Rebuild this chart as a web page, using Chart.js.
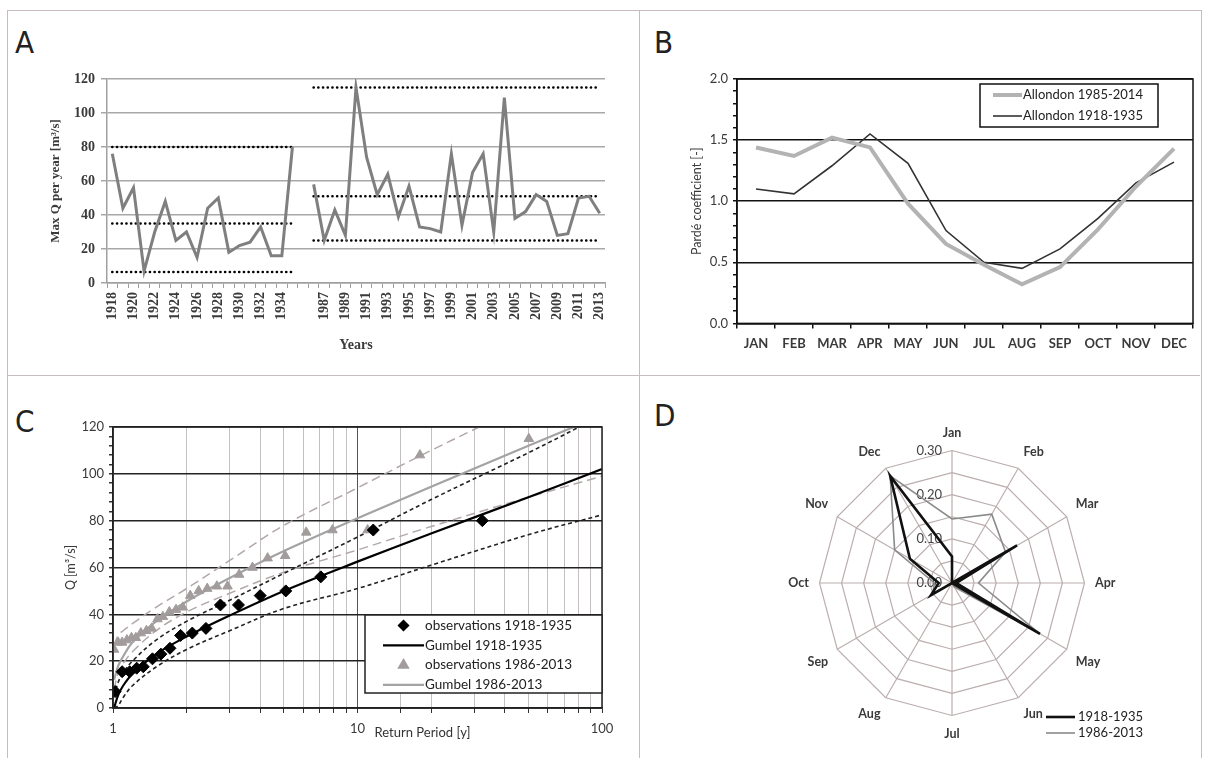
<!DOCTYPE html>
<html lang="en">
<head>
<meta charset="UTF-8">
<title>Allondon floods</title>
<script src="https://cdn.jsdelivr.net/npm/chart.js"></script>
<style>
  body { margin: 0; background: #fff; width: 1208px; height: 758px; overflow: hidden; position: relative; }
  .frame { position: absolute; border: 1px solid #c9bcbc; }
  .line { position: absolute; background: #c9bcbc; }
  .letter { position: absolute; font-family: 'DejaVu Sans Condensed', 'Liberation Sans Narrow', sans-serif; font-size: 31px; line-height: 1; color: #222; font-weight: 300; }
  canvas { position: absolute; }
</style>
</head>
<body>
<div class="frame" style="left:7px; top:10px; width:1193px; height:760px;"></div>
<div class="line" style="left:639px; top:10px; width:1px; height:748px;"></div>
<div class="line" style="left:7px; top:375px; width:1193px; height:1px;"></div>
<div class="letter" style="left:15px; top:27px;">A</div>
<div class="letter" style="left:654px; top:27px;">B</div>
<div class="letter" style="left:15px; top:406px;">C</div>
<div class="letter" style="left:654px; top:400px;">D</div>

<canvas id="chartA" width="625" height="298" style="left:0px; top:60px;"></canvas>
<canvas id="chartB" width="568" height="300" style="left:640px; top:60px;"></canvas>
<canvas id="chartC" width="625" height="358" style="left:0px; top:400px;"></canvas>
<canvas id="chartD" width="420" height="316" style="left:742px; top:425px;"></canvas>

<script>
// ---------- data ----------
// A: annual maximum discharge
const yearsEarly = [1918, 1919, 1920, 1921, 1922, 1923, 1924, 1925, 1926, 1927, 1928, 1929, 1930, 1931, 1932, 1933, 1934, 1935];
const qEarly = [76, 44, 56, 7, 30, 48, 25, 30, 15, 44, 50, 18, 22, 24, 33, 16, 16, 80];
const yearsLate = [1986, 1987, 1988, 1989, 1990, 1991, 1992, 1993, 1994, 1995, 1996, 1997, 1998, 1999, 2000, 2001, 2002, 2003, 2004, 2005, 2006, 2007, 2008, 2009, 2010, 2011, 2012, 2013];
const qLate = [58, 25, 43, 28, 115, 74, 52, 64, 39, 57, 33, 32, 30, 76, 34, 65, 76, 30, 109, 38, 42, 52, 48, 28, 29, 50, 51, 41];
const levelsEarly = [80, 35, 6.5];
const levelsLate = [115, 51, 25];

// B: Pardé coefficients
const monthsUpper = ['JAN', 'FEB', 'MAR', 'APR', 'MAY', 'JUN', 'JUL', 'AUG', 'SEP', 'OCT', 'NOV', 'DEC'];
const parde1985 = [1.44, 1.37, 1.52, 1.44, 0.98, 0.65, 0.48, 0.32, 0.46, 0.77, 1.12, 1.43];
const parde1918 = [1.10, 1.06, 1.29, 1.55, 1.31, 0.76, 0.50, 0.45, 0.61, 0.86, 1.15, 1.32];

// C: return periods
const rpEarly = [32.4, 11.6, 7.08, 5.09, 4.0, 3.26, 2.75, 2.40, 2.11, 1.89, 1.71, 1.57, 1.45, 1.33, 1.25, 1.17, 1.09, 1.02];
const obsEarly = [80, 76, 56, 50, 48, 44, 44, 34, 32, 31, 25.5, 23, 21, 17.6, 17, 15.5, 15.5, 7];
const rpLate = [50.2, 18.0, 11.0, 7.9, 6.17, 5.06, 4.29, 3.72, 3.28, 2.94, 2.66, 2.43, 2.24, 2.07, 1.93, 1.81, 1.70, 1.60, 1.52, 1.44, 1.37, 1.30, 1.24, 1.19, 1.14, 1.09, 1.05, 1.01];
const obsLate = [115, 108, 76, 76, 75, 65, 64, 60, 57, 52, 52, 51, 50, 48, 43, 42, 41, 39, 38, 34, 33, 32, 30, 30, 29, 28, 28, 25];
const rpCurve = [1.01, 1.05, 1.1, 1.2, 1.5, 2, 3, 5, 10, 20, 50, 100];
const gumbelEarly = [0, 5.5, 9.5, 14.5, 23, 30.5, 39.5, 50, 62.5, 74.5, 90, 102];
const upperEarly = [5, 11, 15, 20, 29, 37, 46, 57.5, 73, 89, 109, 125];
const lowerEarly = [0, 1, 4.5, 9.5, 17.5, 25, 33, 42.5, 51, 61, 74, 82.5];
const gumbelLate = [12, 18, 22, 28, 37, 45.5, 55.5, 67, 81, 94.5, 112, 125];
const upperLate = [27, 31, 33, 36, 43, 51, 63, 78, 94, 110, 130, 145];
const lowerLate = [8, 15, 19, 24, 33, 41, 49, 58, 67.5, 77.5, 90, 99];

// D: seasonality of floods
const monthsShort = ['Jan', 'Feb', 'Mar', 'Apr', 'May', 'Jun', 'Jul', 'Aug', 'Sep', 'Oct', 'Nov', 'Dec'];
const season1918 = [0.06, 0.0, 0.17, 0.01, 0.23, 0.0, 0.0, 0.0, 0.055, 0.03, 0.11, 0.28];
const season1986 = [0.145, 0.18, 0.14, 0.06, 0.23, 0.01, 0.0, 0.0, 0.05, 0.04, 0.15, 0.28];

// ---------- shared bits ----------
const SANS = "Lato, 'Open Sans', sans-serif";
const SERIF = "'Liberation Serif', 'DejaVu Serif', serif";
Chart.defaults.font.family = SANS;
Chart.defaults.color = '#333';
Chart.defaults.animation = false;
Chart.defaults.plugins.legend.display = false;
Chart.defaults.plugins.tooltip.enabled = false;

// frame around plot area + hand-placed legend box
const extras = {
  id: 'extras',
  afterDatasetsDraw(chart, args, opts) {
    const ctx = chart.ctx, a = chart.chartArea;
    ctx.save();
    if (opts.frame) {
      ctx.strokeStyle = opts.frame;
      ctx.lineWidth = 1.5;
      ctx.strokeRect(a.left, a.top, a.right - a.left, a.bottom - a.top);
    }
    if (opts.xLabel) {
      const xs = chart.scales.x;
      ctx.font = opts.xLabel.font;
      ctx.fillStyle = '#333';
      ctx.textAlign = 'center';
      ctx.textBaseline = 'middle';
      ctx.fillText(opts.xLabel.text, xs.getPixelForValue(opts.xLabel.at) + opts.xLabel.dx, a.bottom + opts.xLabel.dy);
    }
    const lg = opts.legend;
    if (lg) {
      const x = lg.x !== undefined ? lg.x : a.right - lg.right - lg.width;
      const y = lg.y !== undefined ? lg.y : a.top + lg.top;
      if (lg.border) {
        ctx.fillStyle = '#fff';
        ctx.fillRect(x, y, lg.width, lg.height);
        ctx.strokeStyle = lg.border;
        ctx.lineWidth = 1.5;
        ctx.strokeRect(x, y, lg.width, lg.height);
      }
      ctx.font = lg.font;
      ctx.textAlign = 'left';
      ctx.textBaseline = 'middle';
      lg.items.forEach((it, i) => {
        const cy = y + lg.padTop + i * lg.rowH;
        if (it.marker) {
          ctx.fillStyle = it.color;
          ctx.strokeStyle = it.color;
          Chart.helpers.drawPoint(ctx, {pointStyle: it.marker, radius: it.radius, rotation: 0, borderWidth: 1}, x + (lg.sx0 + lg.sx1) / 2, cy);
        } else {
          ctx.strokeStyle = it.color;
          ctx.lineWidth = it.width;
          ctx.beginPath();
          ctx.moveTo(x + lg.sx0, cy);
          ctx.lineTo(x + lg.sx1, cy);
          ctx.stroke();
        }
        ctx.fillStyle = '#222';
        ctx.fillText(it.text, x + lg.tx, cy);
      });
    }
    ctx.restore();
  }
};

// ---------- A ----------
const labelsA = [...yearsEarly.map(String), '', ...yearsLate.map(String)];
const gapA = yearsEarly.length;
const seriesA = [...qEarly, null, ...qLate];
function levelRow(level, from, to) {
  return labelsA.map((_, i) => (i >= from && i <= to) ? level : null);
}
const dotted = {borderColor: '#000', borderWidth: 2.6, borderDash: [0.1, 4.6], borderCapStyle: 'round', pointRadius: 0, spanGaps: false};
const levelSets = [
  ...levelsEarly.map(v => Object.assign({data: levelRow(v, 0, gapA - 1)}, dotted)),
  ...levelsLate.map(v => Object.assign({data: levelRow(v, gapA + 1, labelsA.length - 1)}, dotted))
];

new Chart(document.getElementById('chartA'), {
  type: 'line',
  data: {
    labels: labelsA,
    datasets: [
      {data: seriesA, borderColor: '#7f7f7f', borderWidth: 3, pointRadius: 0, spanGaps: false, order: 0},
      ...levelSets
    ]
  },
  options: {
    responsive: false,
    devicePixelRatio: 1,
    layout: {padding: {left: 46, top: 19, right: 20, bottom: 0}},
    scales: {
      x: {
        type: 'category',
        offset: true,
        grid: {offset: true, drawOnChartArea: false, tickLength: 5, tickColor: '#a0a0a0'},
        border: {color: '#a0a0a0', width: 1.5},
        ticks: {
          autoSkip: false, minRotation: 90, maxRotation: 90, padding: 4,
          font: {family: SERIF, size: 14, weight: 'bold'}, color: '#3a3a3a',
          callback: (v, i) => i % 2 === 0 ? labelsA[i] : ''
        },
        title: {display: true, text: 'Years', font: {family: SERIF, size: 14, weight: 'bold'}, color: '#3a3a3a', padding: {top: 2, bottom: 4}},
        afterFit: s => { s.height = 75; }
      },
      y: {
        min: 0, max: 120,
        ticks: {stepSize: 20, padding: 6, font: {family: SERIF, size: 14, weight: 'bold'}, color: '#3a3a3a'},
        grid: {color: '#a8a8a8', lineWidth: 1.5, tickLength: 6},
        border: {color: '#a0a0a0', width: 1.5},
        title: {display: true, text: 'Max Q per year [m³/s]', font: {family: SERIF, size: 13, weight: 'bold'}, color: '#3a3a3a', padding: {top: 2, bottom: 4}},
        afterFit: s => { s.width = 61; }
      }
    }
  }
});

// ---------- B ----------
new Chart(document.getElementById('chartB'), {
  type: 'line',
  data: {
    labels: monthsUpper,
    datasets: [
      {label: 'Allondon 1985-2014', data: parde1985, borderColor: '#b3b3b3', borderWidth: 4, pointRadius: 0},
      {label: 'Allondon 1918-1935', data: parde1918, borderColor: '#333', borderWidth: 1.6, pointRadius: 0}
    ]
  },
  plugins: [extras],
  options: {
    responsive: false,
    devicePixelRatio: 1,
    layout: {padding: {left: 45, top: 19, right: 15, bottom: 0}},
    plugins: {
      extras: {
        frame: '#111',
        legend: {
          right: 35, top: 5, width: 178, height: 43, border: '#111', font: '13px ' + SANS,
          padTop: 11, rowH: 21, sx0: 13, sx1: 42, tx: 43,
          items: [
            {text: 'Allondon 1985-2014', color: '#b3b3b3', width: 4},
            {text: 'Allondon 1918-1935', color: '#333', width: 1.6}
          ]
        }
      }
    },
    scales: {
      x: {
        offset: true,
        grid: {offset: true, drawOnChartArea: false, tickLength: 5, tickColor: '#111', lineWidth: 1.5},
        border: {color: '#111', width: 1.5},
        ticks: {padding: 8, font: {size: 13, weight: 'bold'}, color: '#3a3a3a'}
      },
      y: {
        min: 0, max: 2,
        ticks: {
          stepSize: 0.1, autoSkip: false, padding: 5, font: {size: 13}, color: '#3a3a3a',
          callback: v => Math.round(v * 10) % 5 === 0 ? v.toFixed(1) : ''
        },
        grid: {
          color: c => (c.tick && Math.round(c.tick.value * 10) % 5 === 0) ? '#111' : 'rgba(0,0,0,0)',
          lineWidth: 1.5, tickColor: '#111', tickLength: 4
        },
        border: {color: '#111', width: 1.5},
        title: {display: true, text: 'Pardé coefficient [-]', font: {size: 12.5}, color: '#3a3a3a', padding: {top: 4, bottom: 4}},
        afterFit: s => { s.width = 52; }
      }
    }
  }
});

// ---------- C ----------
const pts = (xs, ys) => xs.map((x, i) => ({x: x, y: ys[i]}));
const curve = (ys, color, width, dash, order) => ({
  type: 'line', data: pts(rpCurve, ys), borderColor: color, borderWidth: width,
  borderDash: dash, pointRadius: 0, tension: 0.35, order: order
});
new Chart(document.getElementById('chartC'), {
  type: 'scatter',
  data: {
    datasets: [
      {data: pts(rpEarly, obsEarly), pointStyle: 'rectRot', radius: 6, backgroundColor: '#000', borderColor: '#000', order: 0},
      {data: pts(rpLate, obsLate), pointStyle: 'triangle', radius: 5.5, backgroundColor: '#a39c9c', borderColor: '#a39c9c', order: 1},
      curve(gumbelEarly, '#000', 2.2, [], 2),
      curve(gumbelLate, '#a3a3a3', 2.2, [], 3),
      curve(upperEarly, '#222', 1.6, [4, 3], 4),
      curve(lowerEarly, '#222', 1.6, [4, 3], 5),
      curve(upperLate, '#b3a8a8', 1.5, [9, 5], 6),
      curve(lowerLate, '#b3a8a8', 1.5, [9, 5], 7)
    ]
  },
  plugins: [extras],
  options: {
    responsive: false,
    devicePixelRatio: 1,
    layout: {padding: {left: 59, top: 27, right: 23, bottom: 0}},
    plugins: {
      extras: {
        frame: '#222',
        xLabel: {text: 'Return Period [y]', font: '13px ' + SANS, at: 10, dx: 65, dy: 25},
        legend: {
          right: 0, top: 188, width: 237, height: 78, border: '#222', font: '13.5px ' + SANS,
          padTop: 10.5, rowH: 19.8, sx0: 18, sx1: 59, tx: 60,
          items: [
            {text: 'observations 1918-1935', color: '#000', marker: 'rectRot', radius: 5},
            {text: 'Gumbel 1918-1935', color: '#000', width: 2.2},
            {text: 'observations 1986-2013', color: '#a39c9c', marker: 'triangle', radius: 5},
            {text: 'Gumbel 1986-2013', color: '#a3a3a3', width: 2.2}
          ]
        }
      }
    },
    scales: {
      x: {
        type: 'logarithmic', min: 1, max: 100,
        ticks: {autoSkip: false, minRotation: 0, maxRotation: 0, padding: 8, font: {size: 13}, color: '#3a3a3a', callback: v => (v === 1 || v === 10 || v === 100) ? String(v) : ''},
        grid: {
          color: c => (c.tick && (c.tick.value === 10)) ? '#555' : '#c4c0c0',
          lineWidth: 1, tickColor: '#333', tickLength: 5
        },
        border: {color: '#222', width: 1.5},
        afterFit: s => { s.height = 50; }
      },
      y: {
        min: 0, max: 120,
        ticks: {stepSize: 4, autoSkip: false, padding: 5, font: {size: 13}, color: '#3a3a3a', callback: v => v % 20 === 0 ? String(v) : ''},
        grid: {
          color: c => (c.tick && c.tick.value % 20 === 0) ? '#222' : 'rgba(0,0,0,0)',
          lineWidth: 1.5, tickColor: '#333', tickLength: 4
        },
        border: {color: '#222', width: 1.5},
        title: {display: true, text: 'Q [m³/s]', font: {size: 12.5}, color: '#3a3a3a', padding: {top: 4, bottom: 4}},
        afterFit: s => { s.width = 54; }
      }
    }
  }
});

// ---------- D ----------
const tickPad = '\u2003\u2003\u2003\u2003\u2002';
new Chart(document.getElementById('chartD'), {
  type: 'radar',
  data: {
    labels: monthsShort,
    datasets: [
      {data: season1918, borderColor: '#111', borderWidth: 2.6, pointRadius: 0, fill: false, order: 0},
      {data: season1986, borderColor: '#8a8a8a', borderWidth: 1.6, pointRadius: 0, fill: false, order: 1}
    ]
  },
  plugins: [extras],
  options: {
    responsive: false,
    devicePixelRatio: 1,
    plugins: {
      extras: {
        legend: {
          x: 304, y: 292, width: 110, height: 32, font: '13px ' + SANS,
          padTop: 0, rowH: 16, sx0: 0, sx1: 29, tx: 32,
          items: [
            {text: '1918-1935', color: '#111', width: 2.6},
            {text: '1986-2013', color: '#8a8a8a', width: 1.6}
          ]
        }
      }
    },
    scales: {
      r: {
        min: 0, max: 0.3,
        afterBuildTicks: s => { s.ticks.unshift({value: 0}); },
        ticks: {
          stepSize: 0.05, showLabelBackdrop: false, font: {size: 13}, color: '#444',
          callback: (v, i) => (i > 0 && Math.round(v * 100) % 10 === 0) ? v.toFixed(2) + tickPad : ''
        },
        grid: {color: '#bcaeae', lineWidth: 1.2},
        angleLines: {color: '#bcaeae', lineWidth: 1.2},
        pointLabels: {font: {size: 12.5, weight: 'bold'}, color: '#3a3a3a', padding: 2}
      }
    }
  }
});
</script>
</body>
</html>
